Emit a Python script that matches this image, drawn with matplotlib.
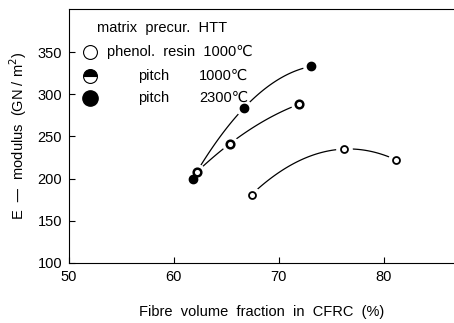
import numpy as np
import matplotlib.pyplot as plt

plt.rcParams['font.family'] = ['Liberation Sans', 'DejaVu Sans']

# 数据
vf_resin = [67.4, 76.2, 81.2]
e_resin = [181, 235, 222]
vf_pitch1000 = [62.2, 65.3, 71.9]
e_pitch1000 = [208, 241, 288]
vf_pitch2300 = [61.8, 66.7, 73.1]
e_pitch2300 = [200, 284, 333]

fig = plt.figure(figsize=(4.54, 3.23), dpi=100)
ax = fig.add_axes([0.152, 0.186, 0.848, 0.786])

# 拟合曲线（二次）
def curve(xs, ys, x0, x1):
    p = np.polyfit(xs, ys, 2)
    xx = np.linspace(x0, x1, 100)
    ax.plot(xx, np.polyval(p, xx), color='black', lw=0.9, zorder=1)

curve(vf_pitch2300, e_pitch2300, 62.5, 73.1)
curve(vf_pitch1000, e_pitch1000, 62.2, 71.9)
curve(vf_resin, e_resin, 67.4, 81.2)

# 白底让线条在点附近断开
for xs, ys in [(vf_resin, e_resin), (vf_pitch1000, e_pitch1000), (vf_pitch2300, e_pitch2300)]:
    ax.plot(xs, ys, 'o', ms=11, color='white', mec='white', ls='none', zorder=2)

ax.plot(vf_resin, e_resin, 'o', ms=5, mfc='white', mec='black', mew=1.3, ls='none', zorder=3)
ax.plot(vf_pitch1000, e_pitch1000, 'o', ms=5.5, mfc='white', mec='black', mew=1.8, ls='none', zorder=3)
ax.plot(vf_pitch2300, e_pitch2300, 'o', ms=6, color='black', ls='none', zorder=3)

# 图例（手动）
fs = 10.5
ax.text(0.073, 0.925, 'matrix  precur.  HTT', transform=ax.transAxes, fontsize=fs, va='center')
ax.plot([0.055], [0.83], 'o', ms=10, mfc='white', mec='black', mew=0.8, transform=ax.transAxes, clip_on=False)
ax.plot([0.055], [0.736], 'o', ms=10, mfc='black', mfcalt='white', mec='black', mew=0.8,
        fillstyle='top', transform=ax.transAxes, clip_on=False)
ax.plot([0.055], [0.65], 'o', ms=11, color='black', transform=ax.transAxes, clip_on=False)
ax.text(0.099, 0.83, 'phenol.  resin  1000℃', transform=ax.transAxes, fontsize=fs, va='center')
ax.text(0.18, 0.736, 'pitch', transform=ax.transAxes, fontsize=fs, va='center')
ax.text(0.338, 0.736, '1000℃', transform=ax.transAxes, fontsize=fs, va='center')
ax.text(0.18, 0.65, 'pitch', transform=ax.transAxes, fontsize=fs, va='center')
ax.text(0.338, 0.65, '2300℃', transform=ax.transAxes, fontsize=fs, va='center')

ax.set_xlim(50, 86.7)
ax.set_ylim(100, 401)
ax.set_xticks([50, 60, 70, 80])
ax.set_yticks([100, 150, 200, 250, 300, 350])
ax.tick_params(direction='in', length=4, labelsize=10.5, pad=5)
ax.spines['right'].set_visible(False)

ax.set_xlabel('Fibre  volume  fraction  in  CFRC  (%)', fontsize=10.5, labelpad=15)
ax.set_ylabel('E  —  modulus  (GN / m$^2$)', fontsize=10.5, labelpad=6)

plt.savefig('out.png', dpi=100)
